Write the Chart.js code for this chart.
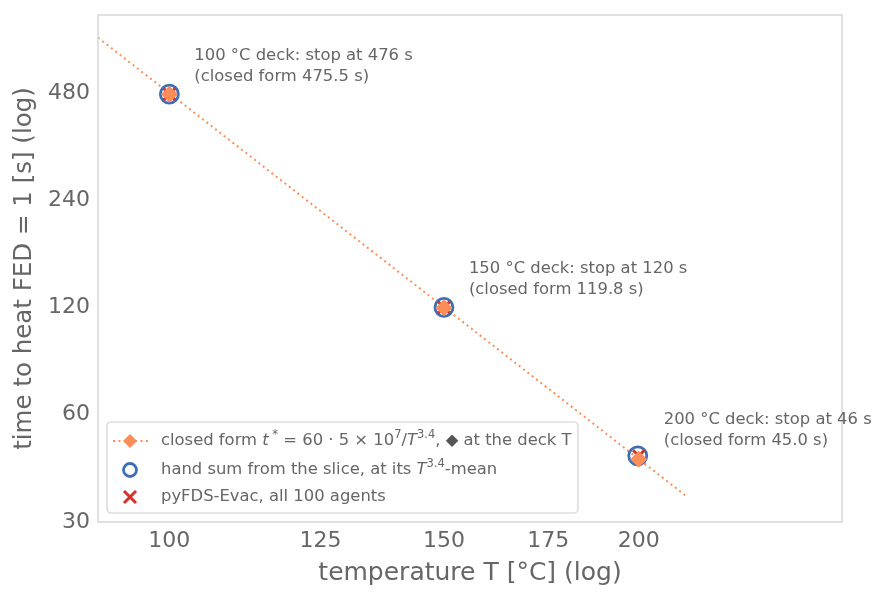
<!DOCTYPE html>
<html>
<head>
<meta charset="utf-8">
<script src="https://cdn.jsdelivr.net/npm/chart.js@4.4.1/dist/chart.umd.min.js"></script>
<style>
  html, body { margin: 0; padding: 0; background: #ffffff; }
  #wrap { width: 889px; height: 600px; }
</style>
</head>
<body>
<div id="wrap"><canvas id="c" width="889" height="600"></canvas></div>
<script>
// ---- data ----
const deckT = [100, 150, 200];
const closedFormT = [475.5, 119.8, 45.0];
const handSumT = [100, 150, 199.7];
const handSumVal = [476, 120, 46];
const evacT = [100, 150, 200];
const evacVal = [476, 120, 46];
const lineT = [90, 215];
const lineVal = [686, 35.2];
const xTicks = [100, 125, 150, 175, 200];
const yTicks = [30, 60, 120, 240, 480];
const annotLine1 = ["100 °C deck: stop at 476 s", "150 °C deck: stop at 120 s", "200 °C deck: stop at 46 s"];
const annotLine2 = ["(closed form 475.5 s)", "(closed form 119.8 s)", "(closed form 45.0 s)"];

const ORANGE = '#fc8d59';
const BLUE = '#3f6fb3';
const RED = '#d7302a';
const TXT = '#666666';
const FONT = '"DejaVu Sans", sans-serif';
const SMALL = 16.4;

const pts = (xs, ys) => xs.map((x, i) => ({ x: x, y: ys[i] }));

function drawRich(ctx, x, y, segs, size) {
  let cx = x;
  for (const s of segs) {
    const fs = s.sup ? size * 0.7 : size;
    ctx.font = (s.italic ? 'italic ' : '') + fs + 'px ' + FONT;
    ctx.fillStyle = s.color || TXT;
    ctx.textBaseline = 'middle';
    ctx.textAlign = 'left';
    const yy = s.sup ? y - size * 0.38 : y;
    ctx.fillText(s.t, cx, yy);
    cx += ctx.measureText(s.t).width;
  }
}

const overlay = {
  id: 'overlay',
  afterDraw(chart) {
    const ctx = chart.ctx;
    const a = chart.chartArea;
    const xs = chart.scales.x, ys = chart.scales.y;
    ctx.save();
    // frame
    ctx.strokeStyle = '#d9d9d9';
    ctx.lineWidth = 1.6;
    ctx.strokeRect(a.left, a.top, a.right - a.left, a.bottom - a.top);
    // annotations
    ctx.font = SMALL + 'px ' + FONT;
    ctx.fillStyle = TXT;
    ctx.textAlign = 'left';
    ctx.textBaseline = 'middle';
    for (let i = 0; i < deckT.length; i++) {
      const px = xs.getPixelForValue(deckT[i]);
      const py = ys.getPixelForValue(closedFormT[i]);
      ctx.fillText(annotLine1[i], px + 25, py - 39);
      ctx.fillText(annotLine2[i], px + 25, py - 18);
    }
    // legend box
    const lx = 107, ly = 422, lw = 471, lh = 91;
    ctx.beginPath();
    ctx.roundRect(lx, ly, lw, lh, 4);
    ctx.fillStyle = 'rgba(255,255,255,0.85)';
    ctx.fill();
    ctx.strokeStyle = '#d0d0d0';
    ctx.lineWidth = 1.2;
    ctx.stroke();
    const mx = 130, tx = 161;
    const r1 = 441, r2 = 470, r3 = 497;
    // entry 1 marker
    ctx.strokeStyle = ORANGE;
    ctx.lineWidth = 2;
    ctx.setLineDash([2, 3.5]);
    ctx.beginPath(); ctx.moveTo(113, r1); ctx.lineTo(148, r1); ctx.stroke();
    ctx.setLineDash([]);
    ctx.fillStyle = ORANGE;
    ctx.beginPath();
    ctx.moveTo(mx, r1 - 7); ctx.lineTo(mx + 7, r1); ctx.lineTo(mx, r1 + 7); ctx.lineTo(mx - 7, r1);
    ctx.closePath(); ctx.fill();
    // entry 2 marker
    ctx.strokeStyle = BLUE; ctx.lineWidth = 2.8;
    ctx.beginPath(); ctx.arc(mx, r2, 6.5, 0, Math.PI * 2); ctx.stroke();
    // entry 3 marker
    ctx.strokeStyle = RED; ctx.lineWidth = 3;
    ctx.beginPath();
    ctx.moveTo(mx - 6, r3 - 6); ctx.lineTo(mx + 6, r3 + 6);
    ctx.moveTo(mx + 6, r3 - 6); ctx.lineTo(mx - 6, r3 + 6);
    ctx.stroke();
    // legend texts
    drawRich(ctx, tx, r1, [
      { t: 'closed form ' }, { t: 't', italic: true }, { t: ' *', sup: true },
      { t: ' = 60 · 5 × 10' }, { t: '7', sup: true }, { t: '/' },
      { t: 'T', italic: true }, { t: '3.4', sup: true }, { t: ', ' },
      { t: '◆', color: '#555555' }, { t: ' at the deck T' }
    ], SMALL);
    drawRich(ctx, tx, r2, [
      { t: 'hand sum from the slice, at its ' }, { t: 'T', italic: true },
      { t: '3.4', sup: true }, { t: '-mean' }
    ], SMALL);
    drawRich(ctx, tx, r3, [{ t: 'pyFDS-Evac, all 100 agents' }], SMALL);
    ctx.restore();
  }
};

new Chart(document.getElementById('c'), {
  type: 'scatter',
  data: {
    datasets: [
      { label: 'closed form (deck T)', data: pts(deckT, closedFormT), pointStyle: 'rectRot',
        pointRadius: 8.5, backgroundColor: ORANGE, borderColor: ORANGE, borderWidth: 0, showLine: false },
      { label: 'pyFDS-Evac', data: pts(evacT, evacVal), pointStyle: 'crossRot',
        pointRadius: 8, borderColor: RED, borderWidth: 3, showLine: false },
      { label: 'hand sum', data: pts(handSumT, handSumVal), pointStyle: 'circle',
        pointRadius: 9, backgroundColor: 'rgba(0,0,0,0)', borderColor: BLUE, borderWidth: 2.8, showLine: false },
      { label: 'closed form line', data: pts(lineT, lineVal), showLine: true, pointRadius: 0,
        borderColor: ORANGE, borderWidth: 2, borderDash: [2, 3.5], fill: false }
    ]
  },
  options: {
    responsive: false,
    devicePixelRatio: 1,
    animation: false,
    layout: { padding: { top: 15, right: 47, left: 0, bottom: 0 } },
    plugins: { legend: { display: false }, tooltip: { enabled: false } },
    scales: {
      x: {
        type: 'logarithmic', min: 90, max: 270,
        grid: { display: false, drawTicks: false },
        border: { display: false },
        afterBuildTicks: (s) => { s.ticks = xTicks.map(v => ({ value: v })); },
        afterFit: (s) => { s.height = 78; s.paddingLeft = 0; s.paddingRight = 0; },
        ticks: { color: TXT, font: { family: FONT, size: 22 }, padding: 6, maxRotation: 0, autoSkip: false,
                 callback: (v) => String(v) },
        title: { display: true, text: 'temperature T [°C] (log)', color: TXT,
                 font: { family: FONT, size: 25 }, padding: { top: 0, bottom: 12 } }
      },
      y: {
        type: 'logarithmic', min: 30, max: 794,
        grid: { display: false, drawTicks: false },
        border: { display: false },
        afterBuildTicks: (s) => { s.ticks = yTicks.map(v => ({ value: v })); },
        afterFit: (s) => { s.width = 98; s.paddingTop = 0; s.paddingBottom = 0; },
        ticks: { color: TXT, font: { family: FONT, size: 22 }, padding: 8, autoSkip: false,
                 callback: (v) => String(v) },
        title: { display: true, text: 'time to heat FED = 1 [s] (log)', color: TXT,
                 font: { family: FONT, size: 24.5 }, padding: { top: 10, bottom: 0 } }
      }
    }
  },
  plugins: [overlay]
});
</script>
</body>
</html>
